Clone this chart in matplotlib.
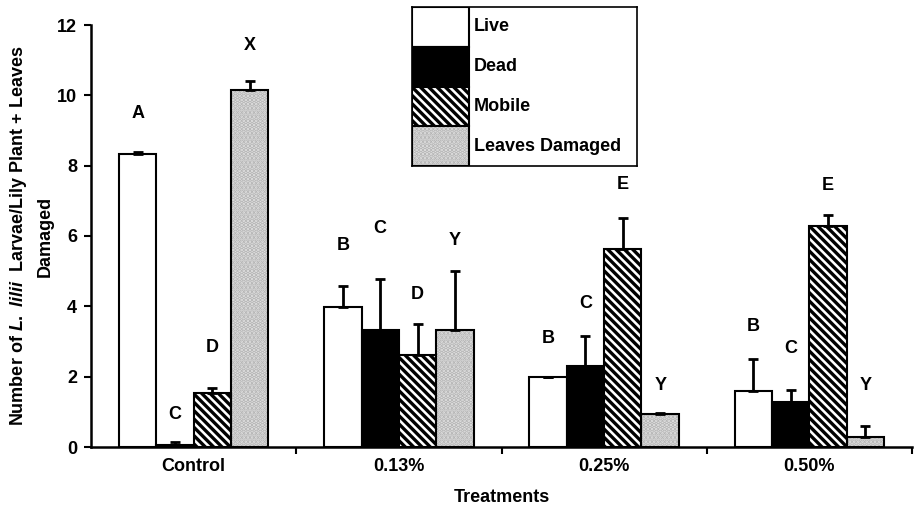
import matplotlib
matplotlib.use("Agg")
import matplotlib.pyplot as plt
import numpy as np
from matplotlib.patches import Rectangle

plt.rcParams['font.family'] = ['Liberation Sans', 'DejaVu Sans']
plt.rcParams['font.weight'] = 'bold'
plt.rcParams['font.size'] = 13
plt.rcParams['mathtext.fontset'] = 'custom'
plt.rcParams['mathtext.it'] = 'Liberation Sans:italic:bold'
plt.rcParams['mathtext.rm'] = 'Liberation Sans:bold'
plt.rcParams['hatch.linewidth'] = 2.4

# ---- data ----
treatments = ["Control", "0.13%", "0.25%", "0.50%"]
series = ["Live", "Dead", "Mobile", "Leaves Damaged"]

live = [8.34, 3.98, 1.98, 1.60]
live_se = [0.06, 0.59, 0.00, 0.89]
dead = [0.06, 3.32, 2.31, 1.29]
dead_se = [0.09, 1.45, 0.86, 0.32]
mobile = [1.54, 2.63, 5.63, 6.29]
mobile_se = [0.15, 0.88, 0.88, 0.31]
leaves = [10.14, 3.32, 0.94, 0.29]
leaves_se = [0.26, 1.68, 0.03, 0.31]

live_letters = ["A", "B", "B", "B"]
dead_letters = ["C", "C", "C", "C"]
mobile_letters = ["D", "D", "E", "E"]
leaves_letters = ["X", "Y", "Y", "Y"]

# heights (data units) at which the significance letters sit
live_letter_y = [9.49, 5.74, 3.09, 3.43]
dead_letter_y = [0.91, 6.20, 4.09, 2.80]
mobile_letter_y = [2.83, 4.34, 7.46, 7.43]
leaves_letter_y = [11.43, 5.86, 1.74, 1.74]

# ---- styles ----
FS = 13
styles = [
    dict(facecolor="white", hatch=None),
    dict(facecolor="black", hatch=None),
    dict(facecolor="white", hatch="\\\\\\\\"),
    dict(facecolor="#e2e2e2", hatch="...."),
]
stipple = "#b4b4b4"

fig = plt.figure(figsize=(9.15, 5.15), dpi=100)
ax = fig.add_axes([91 / 915, 1 - 447 / 515, 821 / 915, 422 / 515])

values = [live, dead, mobile, leaves]
errors = [live_se, dead_se, mobile_se, leaves_se]
letters = [live_letters, dead_letters, mobile_letters, leaves_letters]
letter_y = [live_letter_y, dead_letter_y, mobile_letter_y, leaves_letter_y]

x = np.arange(len(treatments))
w = 0.182
offsets = (np.arange(4) - 1.5) * w

for i in range(4):
    xs = x + offsets[i]
    vals = np.array(values[i])
    se = np.array(errors[i])
    st = styles[i]
    if i == 3:
        # stippled grey fill, then a black outline on top
        ax.bar(xs, vals, w, color=st["facecolor"], edgecolor=stipple,
               hatch=st["hatch"], linewidth=0, zorder=2)
        ax.bar(xs, vals, w, fill=False, edgecolor="black", linewidth=1.5, zorder=3)
    else:
        ax.bar(xs, vals, w, color=st["facecolor"], edgecolor="black",
               hatch=st["hatch"], linewidth=1.5, zorder=3)
    ax.errorbar(xs, vals, yerr=np.vstack([np.zeros_like(se), se]), fmt="none",
                ecolor="black", elinewidth=2, capsize=3.5, capthick=2, zorder=4)
    for xx, lab, ly in zip(xs, letters[i], letter_y[i]):
        ax.text(xx, ly, lab, ha="center", va="center", fontsize=FS, fontweight="bold")

ax.set_xlim(-0.5, 3.5)
ax.set_ylim(0, 12)
ax.set_yticks(np.arange(0, 13, 2))
ax.set_xticks(x)
ax.set_xticklabels(treatments)
ax.set_xticks(np.arange(0.5, 3.6, 1.0), minor=True)
ax.tick_params(axis="x", which="major", length=0, pad=8)
ax.tick_params(axis="x", which="minor", length=5, width=1.5, direction="out")
ax.tick_params(axis="y", length=5, width=1.5, direction="out", pad=5)

for s in ["top", "right"]:
    ax.spines[s].set_visible(False)
for s in ["left", "bottom"]:
    ax.spines[s].set_linewidth(1.8)

ax.set_xlabel("Treatments", fontsize=FS, fontweight="bold", labelpad=10)
ax.set_ylabel("Number of $\\mathit{L.\\ lilii}$  Larvae/Lily Plant + Leaves\nDamaged",
              fontsize=FS, fontweight="bold", labelpad=2, linespacing=1.6)

# ---- legend box ----
lx0, ly0, lw_, lh_ = 412, 7, 225, 159
lax = fig.add_axes([lx0 / 915, 1 - (ly0 + lh_) / 515, lw_ / 915, lh_ / 515])
lax.set_xlim(0, lw_)
lax.set_ylim(lh_, 0)
lax.set_xticks([])
lax.set_yticks([])
for s in lax.spines.values():
    s.set_linewidth(1.2)
row_h = lh_ / 4
patch_w = 57
for i, name in enumerate(series):
    st = styles[i]
    y0 = i * row_h
    if i == 3:
        lax.add_patch(Rectangle((0, y0), patch_w, row_h, facecolor=st["facecolor"],
                                edgecolor=stipple, hatch=st["hatch"], linewidth=0))
        lax.add_patch(Rectangle((0, y0), patch_w, row_h, fill=False,
                                edgecolor="black", linewidth=1.5))
    else:
        lax.add_patch(Rectangle((0, y0), patch_w, row_h, facecolor=st["facecolor"],
                                edgecolor="black", hatch=st["hatch"], linewidth=1.5))
    lax.text(patch_w + 5, y0 + row_h / 2, name, ha="left", va="center",
             fontsize=FS, fontweight="bold")

fig.savefig("out.png", dpi=100)
